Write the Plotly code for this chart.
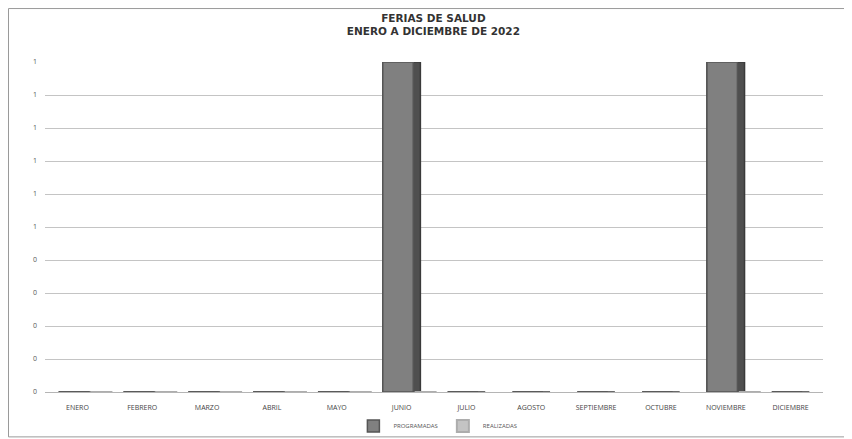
import plotly.graph_objects as go

title_lines = ["FERIAS DE SALUD", "ENERO A DICIEMBRE DE 2022"]
months = ["ENERO", "FEBRERO", "MARZO", "ABRIL", "MAYO", "JUNIO", "JULIO",
          "AGOSTO", "SEPTIEMBRE", "OCTUBRE", "NOVIEMBRE", "DICIEMBRE"]
programadas = [0, 0, 0, 0, 0, 1, 0, 0, 0, 0, 1, 0]
realizadas = [0, 0, 0, 0, 0, 0, None, None, None, None, 0, None]
y_tickvals = [0, 0.1, 0.2, 0.3, 0.4, 0.5, 0.6, 0.7, 0.8, 0.9, 1.0]
y_ticktext = ["0", "0", "0", "0", "0", "1", "1", "1", "1", "1", "1"]

fig = go.Figure()
# side face (depth) of programadas bars
fig.add_trace(go.Bar(
    x=months, y=programadas, name="PROGRAMADAS", showlegend=False,
    width=0.58, offset=-0.29,
    marker=dict(color="#4f4f4f", line=dict(color="#3a3a3a", width=1.5)),
    hoverinfo="skip",
))
# front face of programadas bars
fig.add_trace(go.Bar(
    x=months, y=programadas, name="PROGRAMADAS",
    width=0.47, offset=-0.29,
    marker=dict(color="#808080", line=dict(color="#555555", width=1.5)),
))
fig.add_trace(go.Bar(
    x=months, y=realizadas, name="REALIZADAS",
    width=0.34, offset=0.2,
    marker=dict(color="#c4c4c4", line=dict(color="#adadad", width=2)),
))

fig.update_layout(
    width=844, height=431,
    barmode="overlay",
    paper_bgcolor="white", plot_bgcolor="white",
    margin=dict(l=37, r=29, t=54, b=47, autoexpand=False),
    font=dict(family="Open Sans, DejaVu Sans, sans-serif", color="#444444"),
    title=dict(
        text="<b>" + title_lines[0] + "<br>" + title_lines[1] + "</b>",
        x=0.504, xanchor="center", y=0.968, yanchor="top",
        font=dict(size=10.5, color="#333333", family="DejaVu Sans, sans-serif"),
    ),
    xaxis=dict(
        type="category", showgrid=False, zeroline=False,
        showline=True, linecolor="#b5b5b5", linewidth=1,
        tickfont=dict(size=7, color="#444444"),
        ticks="", ticklabelstandoff=9,
        range=[-0.5, 11.5],
    ),
    yaxis=dict(
        range=[0, 1.0], tickvals=y_tickvals, ticktext=y_ticktext,
        showgrid=True, gridcolor="#c4c4c4", gridwidth=1,
        zeroline=False, showline=False,
        tickfont=dict(size=7, color="#555555"),
        ticklabelstandoff=7,
    ),
    legend=dict(
        orientation="h", x=0.505, xanchor="center", y=-0.103, yanchor="middle",
        font=dict(size=6, color="#555555"),
        itemwidth=30, traceorder="normal", bgcolor="rgba(0,0,0,0)",
    ),
    shapes=[dict(
        type="rect", xref="paper", yref="paper",
        x0=-0.0469, x1=1.032, y0=-0.136, y1=1.162,
        line=dict(color="#9a9a9a", width=1), layer="below",
    )],
)

fig.write_html("out.html")
